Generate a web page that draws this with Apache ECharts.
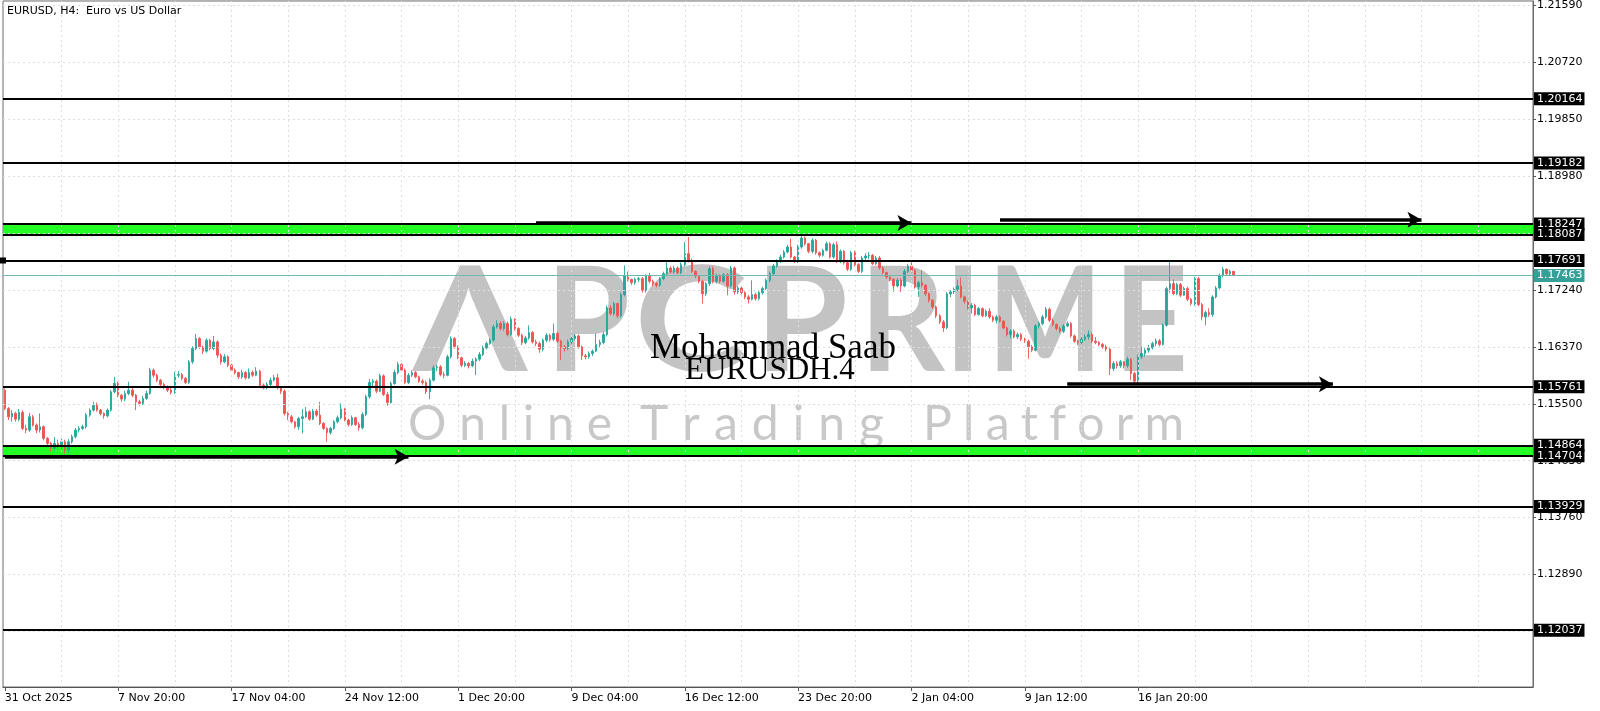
<!DOCTYPE html>
<html><head><meta charset="utf-8">
<script src="https://cdn.jsdelivr.net/npm/echarts@6/dist/echarts.min.js"></script>
<style>html,body{margin:0;padding:0;background:#fff}#c{width:1600px;height:711px}</style>
</head><body><div id="c"></div>
<script>
// x-axis tick labels (one every 32 H4 bars)
const timeLabels = ['31 Oct 2025','7 Nov 20:00','17 Nov 04:00','24 Nov 12:00','1 Dec 20:00','9 Dec 04:00','16 Dec 12:00','23 Dec 20:00','2 Jan 04:00','9 Jan 12:00','16 Jan 20:00'];
// price scale tick labels
const yTicks = [1.2159,1.2072,1.1985,1.1898,1.1811,1.1724,1.1637,1.1550,1.1463,1.1376,1.1289,1.1202];
// EURUSD H4 candles: [open, close, low, high]
const candles = [
[1.15708,1.15428,1.15403,1.15734],[1.15428,1.15301,1.15250,1.15450],[1.15301,1.15352,1.15225,1.15403],[1.15352,1.15265,1.15225,1.15380],
[1.15265,1.15367,1.15230,1.15420],[1.15367,1.15123,1.15100,1.15400],[1.15123,1.15098,1.15050,1.15180],[1.15098,1.15301,1.15070,1.15360],
[1.15301,1.15174,1.15150,1.15330],[1.15174,1.15098,1.15050,1.15200],[1.15098,1.15148,1.15060,1.15352],[1.15148,1.14970,1.14940,1.15170],
[1.14970,1.14894,1.14850,1.14990],[1.14894,1.14818,1.14767,1.14920],[1.14818,1.14894,1.14790,1.14990],[1.14894,1.14843,1.14800,1.14950],
[1.14843,1.14919,1.14800,1.14970],[1.14919,1.14792,1.14740,1.14950],[1.14792,1.14919,1.14760,1.14960],[1.14919,1.14996,1.14890,1.15030],
[1.14996,1.15098,1.14970,1.15130],[1.15098,1.15123,1.15060,1.15160],[1.15123,1.15148,1.15100,1.15180],[1.15148,1.15327,1.15120,1.15360],
[1.15327,1.15403,1.15300,1.15430],[1.15403,1.15479,1.15380,1.15530],[1.15479,1.15403,1.15380,1.15520],[1.15403,1.15352,1.15320,1.15420],
[1.15352,1.15316,1.15270,1.15370],[1.15316,1.15403,1.15290,1.15430],[1.15403,1.15683,1.15380,1.15710],[1.15683,1.15810,1.15660,1.15912],
[1.15810,1.15632,1.15600,1.15840],[1.15632,1.15571,1.15530,1.15650],[1.15571,1.15657,1.15540,1.15700],[1.15657,1.15708,1.15630,1.15836],
[1.15708,1.15632,1.15600,1.15740],[1.15632,1.15530,1.15403,1.15650],[1.15530,1.15505,1.15470,1.15560],[1.15505,1.15581,1.15480,1.15620],
[1.15581,1.15657,1.15560,1.15700],[1.15657,1.16014,1.15640,1.16050],[1.16014,1.15937,1.15900,1.16040],[1.15937,1.15861,1.15830,1.15960],
[1.15861,1.15795,1.15760,1.15880],[1.15795,1.15759,1.15720,1.15820],[1.15759,1.15708,1.15680,1.15780],[1.15708,1.15673,1.15640,1.15740],
[1.15673,1.15937,1.15650,1.15990],[1.15937,1.15947,1.15900,1.16000],[1.15947,1.15887,1.15860,1.15970],[1.15887,1.15826,1.15800,1.15910],
[1.15826,1.16141,1.15800,1.16170],[1.16141,1.16345,1.16110,1.16380],[1.16345,1.16497,1.16320,1.16568],[1.16497,1.16370,1.16340,1.16520],
[1.16370,1.16304,1.16260,1.16390],[1.16304,1.16472,1.16280,1.16500],[1.16472,1.16345,1.16320,1.16490],[1.16345,1.16446,1.16320,1.16538],
[1.16446,1.16243,1.16200,1.16470],[1.16243,1.16141,1.16100,1.16270],[1.16141,1.16218,1.16120,1.16260],[1.16218,1.16090,1.16060,1.16240],
[1.16090,1.16014,1.15990,1.16110],[1.16014,1.15978,1.15950,1.16040],[1.15978,1.15912,1.15880,1.15990],[1.15912,1.15978,1.15880,1.16020],
[1.15978,1.15897,1.15870,1.16000],[1.15897,1.15978,1.15880,1.16040],[1.15978,1.15937,1.15910,1.16010],[1.15937,1.15998,1.15920,1.16060],
[1.15998,1.15785,1.15760,1.16020],[1.15785,1.15744,1.15720,1.15810],[1.15744,1.15795,1.15720,1.15830],[1.15795,1.15861,1.15770,1.15900],
[1.15861,1.15897,1.15840,1.15940],[1.15897,1.15744,1.15720,1.15960],[1.15744,1.15693,1.15650,1.15770],[1.15693,1.15352,1.15320,1.15720],
[1.15352,1.15301,1.15250,1.15380],[1.15301,1.15225,1.15200,1.15330],[1.15225,1.15148,1.15120,1.15240],[1.15148,1.15276,1.15100,1.15300],
[1.15276,1.15301,1.15047,1.15420],[1.15301,1.15378,1.15280,1.15450],[1.15378,1.15265,1.15240,1.15400],[1.15265,1.15388,1.15250,1.15420],
[1.15388,1.15327,1.15300,1.15420],[1.15327,1.15200,1.15174,1.15530],[1.15200,1.15123,1.15100,1.15220],[1.15123,1.15062,1.14919,1.15140],
[1.15062,1.15123,1.15030,1.15150],[1.15123,1.15225,1.15100,1.15250],[1.15225,1.15286,1.15200,1.15320],[1.15286,1.15418,1.15260,1.15505],
[1.15418,1.15250,1.15230,1.15440],[1.15250,1.15184,1.15150,1.15270],[1.15184,1.15286,1.15160,1.15320],[1.15286,1.15184,1.15160,1.15300],
[1.15184,1.15133,1.15090,1.15220],[1.15133,1.15337,1.15110,1.15370],[1.15337,1.15607,1.15310,1.15640],[1.15607,1.15826,1.15580,1.15880],
[1.15826,1.15846,1.15740,1.15880],[1.15846,1.15693,1.15660,1.15870],[1.15693,1.15927,1.15680,1.15960],[1.15927,1.15642,1.15620,1.15950],
[1.15642,1.15520,1.15470,1.15680],[1.15520,1.15810,1.15500,1.15840],[1.15810,1.15978,1.15790,1.16020],[1.15978,1.16100,1.15950,1.16140],
[1.16100,1.16014,1.15990,1.16120],[1.16014,1.15826,1.15800,1.16040],[1.15826,1.15937,1.15800,1.15970],[1.15937,1.15978,1.15910,1.16010],
[1.15978,1.15912,1.15890,1.16000],[1.15912,1.15846,1.15820,1.15930],[1.15846,1.15826,1.15790,1.15880],[1.15826,1.15683,1.15650,1.15850],
[1.15683,1.15861,1.15570,1.15890],[1.15861,1.16050,1.15840,1.16090],[1.16050,1.16065,1.16000,1.16100],[1.16065,1.15947,1.15920,1.16090],
[1.15947,1.15937,1.15890,1.15990],[1.15937,1.16218,1.15920,1.16250],[1.16218,1.16497,1.16190,1.16530],[1.16497,1.16370,1.16340,1.16520],
[1.16370,1.16202,1.16180,1.16390],[1.16202,1.16090,1.16060,1.16220],[1.16090,1.16116,1.16060,1.16150],[1.16116,1.16080,1.16040,1.16140],
[1.16080,1.16151,1.16060,1.16190],[1.16151,1.16182,1.15937,1.16210],[1.16182,1.16253,1.16150,1.16290],[1.16253,1.16355,1.16230,1.16390],
[1.16355,1.16421,1.16330,1.16450],[1.16421,1.16472,1.16400,1.16500],[1.16472,1.16675,1.16450,1.16710],[1.16675,1.16726,1.16650,1.16780],
[1.16726,1.16650,1.16620,1.16760],[1.16650,1.16726,1.16620,1.16760],[1.16726,1.16558,1.16530,1.16760],[1.16558,1.16792,1.16540,1.16830],
[1.16792,1.16650,1.16620,1.16810],[1.16650,1.16548,1.16520,1.16670],[1.16548,1.16436,1.16400,1.16570],[1.16436,1.16507,1.16410,1.16540],
[1.16507,1.16589,1.16480,1.16700],[1.16589,1.16446,1.16420,1.16610],[1.16446,1.16421,1.16380,1.16480],[1.16421,1.16335,1.16280,1.16450],
[1.16335,1.16472,1.16300,1.16500],[1.16472,1.16548,1.16440,1.16580],[1.16548,1.16487,1.16450,1.16570],[1.16487,1.16574,1.16460,1.16726],
[1.16574,1.16457,1.16430,1.16600],[1.16457,1.16370,1.16167,1.16480],[1.16370,1.16345,1.16300,1.16400],[1.16345,1.16446,1.16320,1.16480],
[1.16446,1.16497,1.16410,1.16530],[1.16497,1.16538,1.16470,1.16570],[1.16538,1.16370,1.16340,1.16560],[1.16370,1.16233,1.16167,1.16390],
[1.16233,1.16218,1.16180,1.16260],[1.16218,1.16268,1.16190,1.16300],[1.16268,1.16304,1.16230,1.16330],[1.16304,1.16406,1.16290,1.16574],
[1.16406,1.16436,1.16360,1.16480],[1.16436,1.16558,1.16410,1.16600],[1.16558,1.16966,1.16530,1.17000],[1.16966,1.16879,1.16850,1.17010],
[1.16879,1.17032,1.16850,1.17060],[1.17032,1.16844,1.16810,1.17050],[1.16844,1.17169,1.16820,1.17200],[1.17169,1.17464,1.17140,1.17615],
[1.17464,1.17403,1.17370,1.17520],[1.17403,1.17352,1.17320,1.17410],[1.17352,1.17403,1.17320,1.17430],[1.17403,1.17413,1.17360,1.17440],
[1.17413,1.17235,1.17200,1.17440],[1.17235,1.17454,1.17200,1.17480],[1.17454,1.17373,1.17340,1.17500],[1.17373,1.17337,1.17300,1.17400],
[1.17337,1.17312,1.17280,1.17360],[1.17312,1.17413,1.17290,1.17440],[1.17413,1.17490,1.17390,1.17520],[1.17490,1.17576,1.17460,1.17693],
[1.17576,1.17515,1.17490,1.17600],[1.17515,1.17576,1.17490,1.17610],[1.17576,1.17505,1.17480,1.17600],[1.17505,1.17627,1.17480,1.17660],
[1.17627,1.17795,1.17600,1.17973],[1.17795,1.17693,1.17660,1.18050],[1.17693,1.17525,1.17500,1.17720],[1.17525,1.17454,1.17420,1.17540],
[1.17454,1.17373,1.17340,1.17470],[1.17373,1.17184,1.17032,1.17390],[1.17184,1.17337,1.17150,1.17360],[1.17337,1.17566,1.17300,1.17600],
[1.17566,1.17373,1.17340,1.17600],[1.17373,1.17464,1.17340,1.17490],[1.17464,1.17373,1.17340,1.17480],[1.17373,1.17474,1.17350,1.17500],
[1.17474,1.17301,1.17160,1.17500],[1.17301,1.17576,1.17280,1.17610],[1.17576,1.17210,1.17170,1.17600],[1.17210,1.17271,1.17180,1.17300],
[1.17271,1.17200,1.17170,1.17290],[1.17200,1.17134,1.17100,1.17220],[1.17134,1.17098,1.17032,1.17160],[1.17098,1.17169,1.17080,1.17388],
[1.17169,1.17108,1.17080,1.17200],[1.17108,1.17200,1.17080,1.17230],[1.17200,1.17261,1.17170,1.17290],[1.17261,1.17388,1.17240,1.17420],
[1.17388,1.17490,1.17360,1.17520],[1.17490,1.17607,1.17470,1.17640],[1.17607,1.17678,1.17580,1.17710],[1.17678,1.17744,1.17650,1.17780],
[1.17744,1.17821,1.17720,1.17850],[1.17821,1.17897,1.17800,1.17930],[1.17897,1.17744,1.17720,1.18024],[1.17744,1.17678,1.17650,1.17760],
[1.17678,1.17897,1.17650,1.17930],[1.17897,1.18034,1.17870,1.18085],[1.18034,1.17948,1.17920,1.18060],[1.17948,1.17831,1.17800,1.17960],
[1.17831,1.17999,1.17800,1.18030],[1.17999,1.17810,1.17780,1.18020],[1.17810,1.17770,1.17740,1.17830],[1.17770,1.17846,1.17750,1.17870],
[1.17846,1.17948,1.17830,1.17980],[1.17948,1.17744,1.17720,1.17970],[1.17744,1.17933,1.17720,1.17960],[1.17933,1.17678,1.17650,1.17980],
[1.17678,1.17831,1.17650,1.17860],[1.17831,1.17658,1.17630,1.17850],[1.17658,1.17556,1.17530,1.17700],[1.17556,1.17810,1.17530,1.17840],
[1.17810,1.17627,1.17600,1.17840],[1.17627,1.17525,1.17500,1.17650],[1.17525,1.17729,1.17500,1.17760],[1.17729,1.17760,1.17700,1.17800],
[1.17760,1.17770,1.17710,1.17820],[1.17770,1.17642,1.17620,1.17790],[1.17642,1.17729,1.17620,1.17760],[1.17729,1.17576,1.17550,1.17760],
[1.17576,1.17505,1.17480,1.17600],[1.17505,1.17439,1.17410,1.17520],[1.17439,1.17403,1.17370,1.17450],[1.17403,1.17301,1.17210,1.17420],
[1.17301,1.17388,1.17280,1.17420],[1.17388,1.17301,1.17210,1.17420],[1.17301,1.17525,1.17280,1.17560],[1.17525,1.17607,1.17500,1.17640],
[1.17607,1.17541,1.17510,1.17668],[1.17541,1.17286,1.17260,1.17560],[1.17286,1.17352,1.17134,1.17380],[1.17352,1.17312,1.17280,1.17541],
[1.17312,1.17184,1.17150,1.17330],[1.17184,1.17083,1.17050,1.17200],[1.17083,1.16981,1.16950,1.17100],[1.16981,1.16844,1.16810,1.17000],
[1.16844,1.16752,1.16720,1.16870],[1.16752,1.16660,1.16599,1.16780],[1.16660,1.17180,1.16640,1.17210],[1.17180,1.17210,1.17130,1.17240],
[1.17210,1.17250,1.17180,1.17280],[1.17250,1.17301,1.17220,1.17400],[1.17301,1.17134,1.17110,1.17430],[1.17134,1.17067,1.17030,1.17150],
[1.17067,1.16966,1.16940,1.17080],[1.16966,1.17006,1.16880,1.17040],[1.17006,1.16864,1.16840,1.17030],[1.16864,1.16955,1.16850,1.16980],
[1.16955,1.16844,1.16820,1.16970],[1.16844,1.16915,1.16830,1.16940],[1.16915,1.16828,1.16800,1.16960],[1.16828,1.16777,1.16750,1.16850],
[1.16777,1.16828,1.16730,1.16860],[1.16828,1.16762,1.16740,1.16850],[1.16762,1.16660,1.16640,1.16780],[1.16660,1.16558,1.16530,1.16680],
[1.16558,1.16609,1.16500,1.16640],[1.16609,1.16523,1.16500,1.16640],[1.16523,1.16558,1.16490,1.16590],[1.16558,1.16487,1.16460,1.16580],
[1.16487,1.16457,1.16430,1.16510],[1.16457,1.16370,1.16192,1.16480],[1.16370,1.16319,1.16290,1.16400],[1.16319,1.16691,1.16300,1.16720],
[1.16691,1.16726,1.16650,1.16760],[1.16726,1.16828,1.16700,1.16860],[1.16828,1.16945,1.16800,1.16980],[1.16945,1.16777,1.16750,1.16970],
[1.16777,1.16711,1.16680,1.16800],[1.16711,1.16650,1.16620,1.16730],[1.16650,1.16609,1.16580,1.16680],[1.16609,1.16691,1.16580,1.16720],
[1.16691,1.16726,1.16670,1.16760],[1.16726,1.16538,1.16510,1.16750],[1.16538,1.16457,1.16430,1.16560],[1.16457,1.16436,1.16400,1.16480],
[1.16436,1.16487,1.16410,1.16520],[1.16487,1.16523,1.16460,1.16560],[1.16523,1.16558,1.16480,1.16620],[1.16558,1.16457,1.16430,1.16590],
[1.16457,1.16436,1.16410,1.16520],[1.16436,1.16406,1.16380,1.16460],[1.16406,1.16370,1.16340,1.16430],[1.16370,1.16335,1.16300,1.16400],
[1.16335,1.16039,1.15937,1.16370],[1.16039,1.16116,1.16000,1.16150],[1.16116,1.16080,1.16040,1.16150],[1.16080,1.16141,1.16050,1.16170],
[1.16141,1.16080,1.16040,1.16150],[1.16080,1.16182,1.16050,1.16218],[1.16182,1.15963,1.15861,1.16200],[1.15963,1.15846,1.15800,1.15990],
[1.15846,1.16218,1.15790,1.16250],[1.16218,1.16268,1.16180,1.16370],[1.16268,1.16319,1.16220,1.16350],[1.16319,1.16355,1.16280,1.16400],
[1.16355,1.16421,1.16330,1.16450],[1.16421,1.16462,1.16380,1.16500],[1.16462,1.16406,1.16380,1.16490],[1.16406,1.16701,1.16390,1.16730],
[1.16701,1.17261,1.16680,1.17290],[1.17261,1.17337,1.17200,1.17693],[1.17337,1.17184,1.17160,1.17400],[1.17184,1.17322,1.17160,1.17350],
[1.17322,1.17159,1.17130,1.17350],[1.17159,1.17261,1.17150,1.17290],[1.17261,1.17098,1.17070,1.17290],[1.17098,1.17032,1.17000,1.17120],
[1.17032,1.17413,1.17000,1.17440],[1.17413,1.17017,1.16990,1.17440],[1.17017,1.16828,1.16777,1.17040],[1.16828,1.16894,1.16700,1.16920],
[1.16894,1.16864,1.16830,1.16960],[1.16864,1.17134,1.16830,1.17160],[1.17134,1.17271,1.17110,1.17300],[1.17271,1.17464,1.17250,1.17490],
[1.17464,1.17556,1.17430,1.17592],[1.17556,1.17490,1.17470,1.17570],[1.17490,1.17525,1.17460,1.17550],[1.17525,1.17463,1.17450,1.17530]
];
// drawn objects
const levelLines = [1.20164, 1.19182, 1.15761, 1.13929, 1.12037];
const selectedLine = 1.17691;
const bands = [[1.18247, 1.18087], [1.14864, 1.14704]];
const bidPrice = 1.17463;
// arrows: [startBar, startPrice, endBar, endPrice]
const arrows = [[150,1.18265,256,1.18265],[281,1.18312,400,1.18312],[300,1.15800,375,1.15800],[0,1.14690,114,1.14690]];

const totalSlots = 432;      // bars + empty right margin
const labelEvery = 32, gridEvery = 16;
const categories = Array.from({length: totalSlots}, (_, i) => String(i));

const FONT = 'DejaVu Sans';
const boxLabel = (txt, bg) => ({
  show: true, position: 'end', distance: 1, formatter: txt,
  backgroundColor: bg || '#000', color: '#fff', fontSize: 11, fontFamily: FONT,
  padding: [1, 2, 0, 3], lineHeight: 12
});
const lineItem = (v, extra) => Object.assign({ yAxis: v, label: boxLabel(v.toFixed(5)) }, extra || {});

const gridMarks = [];
for (let k = gridEvery; k < totalSlots; k += gridEvery) gridMarks.push({ xAxis: k });
yTicks.forEach(v => gridMarks.push({ yAxis: v }));

const levelData = [];
levelLines.forEach(v => levelData.push(lineItem(v)));
bands.forEach(b => { levelData.push(lineItem(b[0])); levelData.push(lineItem(b[1])); });
levelData.push(lineItem(selectedLine, { symbol: ['rect', 'rect'], symbolSize: 6 }));

// watermark layout
const measureCtx = document.createElement('canvas').getContext('2d');
const wmColor = '#c3c3c3';
const wmLetters = [['Λ',413,527],['P',546,630],['C',634,748],['P',755,848],['R',860,945],['I',952,974],['M',988,1102],['E',1114,1188]];
const wmFont = 'bold 146px Lato';
measureCtx.font = wmFont;
const graphics = [];
wmLetters.forEach(([ch, x0, x1]) => {
  const w = measureCtx.measureText(ch).width;
  const sx = Math.max(0.8, Math.min(1.25, (x1 - x0) / w));
  graphics.push({ type: 'text', x: (x0 + x1) / 2, y: 324, z: 0, scaleX: sx,
    style: { text: ch, fill: wmColor, font: wmFont, align: 'center', verticalAlign: 'middle' } });
});
const subWords = [['Online',408,612],['Trading',640,884],['Platform',923,1184]];
const subFont = '48px Lato';
measureCtx.font = subFont;
subWords.forEach(([word, x0, x1]) => {
  const chars = word.split('');
  const widths = chars.map(c => measureCtx.measureText(c).width);
  const natural = widths.reduce((a, b) => a + b, 0);
  const gap = (x1 - x0 - natural) / (chars.length - 1);
  let x = x0;
  chars.forEach((c, k) => {
    graphics.push({ type: 'text', x: x, y: 425, z: 0,
      style: { text: c, fill: '#c8c8c8', font: subFont, align: 'left', verticalAlign: 'middle' } });
    x += widths[k] + gap;
  });
});
graphics.push(
  { type: 'text', left: 7, top: 6, z: 20, style: { text: 'EURUSD, H4:  Euro vs US Dollar', fill: '#000', font: '11px "DejaVu Sans"' } },
  { type: 'text', x: 650, y: 349, z: 30, style: { text: 'Mohammad Saab', fill: '#000', font: '35px "Liberation Serif"', align: 'left', verticalAlign: 'middle' } },
  { type: 'text', x: 685, y: 371, z: 30, style: { text: 'EURUSDH.4', fill: '#000', font: '31px "Liberation Serif"', align: 'left', verticalAlign: 'middle' } }
);

const chart = echarts.init(document.getElementById('c'), null, { renderer: 'canvas' });
chart.setOption({
  animation: false,
  backgroundColor: '#fff',
  grid: { left: 3, right: 67, top: 0, bottom: 24, show: true, borderColor: '#6a6a6a', borderWidth: 1 },
  xAxis: {
    type: 'category', data: categories, boundaryGap: true,
    axisLine: { show: true, lineStyle: { color: '#555', width: 1 } },
    axisTick: { show: true, alignWithLabel: true, length: 4, lineStyle: { color: '#555' },
      interval: (i) => i % labelEvery === 0 && i / labelEvery < timeLabels.length },
    axisLabel: { show: true, align: 'left', margin: 6, fontSize: 11, fontFamily: FONT, color: '#000',
      interval: (i) => i % labelEvery === 0 && i / labelEvery < timeLabels.length,
      formatter: (v, i) => (i % labelEvery === 0 && timeLabels[i / labelEvery]) ? timeLabels[i / labelEvery] : '' },
    splitLine: { show: false }
  },
  yAxis: {
    type: 'value', position: 'right', min: 1.11169, max: 1.21659, scale: true,
    axisLine: { show: true, lineStyle: { color: '#6a6a6a' } },
    axisTick: { show: true, length: 3, customValues: yTicks, lineStyle: { color: '#555' } },
    axisLabel: { show: true, customValues: yTicks, margin: 4, fontSize: 11, fontFamily: FONT, color: '#000',
      formatter: v => v.toFixed(5) },
    splitLine: { show: false }
  },
  graphic: graphics,
  series: [
    { type: 'line', data: [], z: 1, silent: true,
      markLine: { silent: true, precision: 5, symbol: ['none', 'none'], label: { show: false },
        lineStyle: { color: '#dedede', width: 1, type: [2, 3] }, data: gridMarks } },
    { type: 'candlestick', name: 'EURUSD', data: candles, z: 2, barWidth: 2,
      itemStyle: { color: '#26a69a', color0: '#ef5350', borderColor: '#26a69a', borderColor0: '#ef5350', borderWidth: 0.9 } },
    { type: 'line', data: [], z: 3, silent: true,
      markArea: { silent: true, label: { show: false }, itemStyle: { color: '#00ff00', opacity: 0.85 },
        data: bands.map(b => [{ yAxis: b[0] }, { yAxis: b[1] }]) } },
    { type: 'line', data: [], z: 4, silent: true,
      markLine: { silent: true, precision: 5, symbol: ['none', 'none'], lineStyle: { color: '#000', width: 2, type: 'solid' },
        data: levelData.concat([{ yAxis: bidPrice, lineStyle: { color: '#72b8b2', width: 1 }, label: boxLabel(bidPrice.toFixed(5), '#34a097') }]) } },
    { type: 'line', data: [], z: 5, silent: true,
      markLine: { silent: true, precision: 5, symbol: ['none', 'arrow'], symbolSize: [12, 14], label: { show: false },
        lineStyle: { color: '#000', width: 3.5, type: 'solid' },
        data: arrows.map(a => [{ coord: [a[0], a[1]] }, { coord: [a[2], a[3]] }]) } }
  ]
});
</script>
</body></html>
